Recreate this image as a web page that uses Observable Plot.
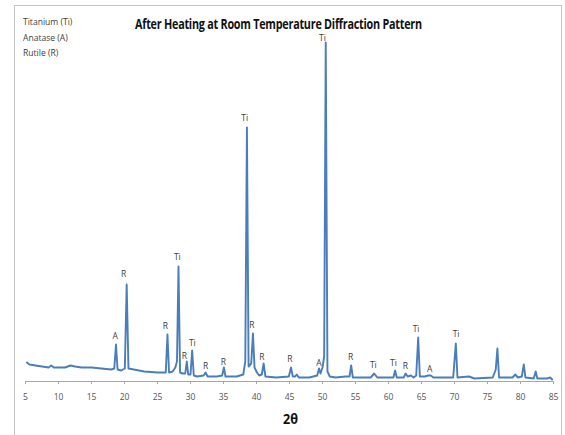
<!DOCTYPE html>
<html>
<head>
<meta charset="utf-8">
<script src="https://cdn.jsdelivr.net/npm/d3@7"></script>
<script src="https://cdn.jsdelivr.net/npm/@observablehq/plot@0.6"></script>
<style>
  body { margin: 0; background: #fff; }
  #wrap { position: relative; width: 565px; height: 435px; overflow: hidden; font-family: "Open Sans", "Liberation Sans", sans-serif; }
  #frame { position: absolute; left: 14px; top: 5px; width: 548px; height: 440px; border: 1px solid #c4c4c4; box-sizing: border-box; }
  #chart { position: absolute; left: 0; top: 0; }
  .title { position: absolute; left: 135px; top: 15px; font-weight: bold; font-size: 13.5px; color: #111; white-space: nowrap; letter-spacing: -0.3px; font-family: "Open Sans", sans-serif; transform: scaleX(0.8); transform-origin: left top; }
  .legend { position: absolute; left: 23px; top: 14px; font-size: 9.5px; line-height: 15.5px; color: #404040; font-family: "Open Sans", sans-serif; transform: scaleX(0.9); transform-origin: left top; }
  .xlabel { position: absolute; left: 283px; top: 409px; font-weight: bold; font-size: 14px; color: #111; transform: scaleX(0.9); transform-origin: left top; }
</style>
</head>
<body>
<div id="wrap">
  <div id="frame"></div>
  <div id="chart"></div>
  <div class="title">After Heating at Room Temperature Diffraction Pattern</div>
  <div class="legend">Titanium (Ti)<br>Anatase (A)<br>Rutile (R)</div>
  <div class="xlabel">2θ</div>
</div>
<script>
// Diffraction pattern: 2θ (degrees) and intensity (arbitrary units)
const twoTheta = [5.2, 5.6, 6.5, 7.5, 8.5, 8.9, 9.3, 10, 11, 11.8, 12.5, 13.5, 15, 16.5, 18, 18.45, 18.71, 18.95, 19.5, 20.05, 20.33, 20.6, 21.4, 23, 25, 26.25, 26.51, 26.75, 27.3, 27.7, 27.95, 28.18, 28.42, 28.8, 29.2, 29.44, 29.65, 30.0, 30.25, 30.5, 31, 32.0, 32.28, 32.6, 34, 34.8, 35.06, 35.3, 37, 38.0, 38.3, 38.55, 38.8, 39.2, 39.46, 39.7, 40.07, 40.4, 40.8, 41.08, 41.35, 43, 44.9, 45.23, 45.5, 45.85, 46.1, 46.4, 48, 49.2, 49.48, 49.7, 50.0, 50.25, 50.49, 50.75, 51.1, 52, 53.5, 54.1, 54.34, 54.6, 55.5, 57.3, 57.83, 58.3, 60, 60.75, 61.0, 61.25, 62.3, 62.6, 62.9, 63.4, 63.8, 64.2, 64.5, 64.75, 65.5, 66.0, 66.4, 66.8, 69.8, 70.2, 70.45, 72.2, 73, 75.8, 76.25, 76.5, 76.75, 78.8, 79.2, 79.6, 80.2, 80.5, 80.75, 82.0, 82.3, 82.55, 84, 84.5, 84.8];
const intensity = [19, 17, 16, 15, 14, 16, 14, 14, 14, 16, 15, 14, 14, 13, 12, 13, 37, 12, 11, 13, 97, 13, 12, 10, 9, 9, 47, 9, 10, 14, 20, 115, 9, 8, 8, 20, 7, 7, 31, 6, 5, 6, 9, 5, 5, 6, 14, 5, 5, 7, 20, 254, 15, 18, 48, 14, 9, 6, 7, 18, 5, 4, 5, 14, 5, 5, 7, 4, 4, 6, 13, 8, 14, 25, 339, 10, 5, 4, 5, 5, 16, 4, 4, 4, 8, 4, 4, 4, 11, 4, 4, 8, 5, 6, 4, 6, 44, 5, 5, 6, 6, 4, 4, 38, 4, 5, 3, 4, 12, 33, 4, 4, 7, 4, 5, 17, 4, 3, 10, 3, 3, 4, 2];

// Peak annotations
const labelText = ["A", "R", "R", "Ti", "R", "Ti", "R", "R", "Ti", "R", "R", "R", "A", "Ti", "R", "Ti", "Ti", "R", "Ti", "A", "Ti"];
const labelX = [18.6, 19.86, 26.18, 28.0, 29.06, 30.27, 32.29, 34.97, 38.2, 39.3, 40.8, 45.07, 49.47, 49.98, 54.27, 57.7, 60.74, 62.56, 64.18, 66.25, 70.24];
const labelY = [45, 107, 55, 124, 25, 38, 15, 19, 263, 56, 24, 22, 18, 343, 24, 16, 18, 15, 52, 12, 47];

const xTicks = [5, 10, 15, 20, 25, 30, 35, 40, 45, 50, 55, 60, 65, 70, 75, 80, 85];

const series = twoTheta.map((t, i) => ({t, v: intensity[i]}));
const labels = labelText.map((s, i) => ({s, x: labelX[i], y: labelY[i]}));

const chart = Plot.plot({
  width: 565,
  height: 435,
  marginLeft: 25,
  marginRight: 12,
  marginTop: 36,
  marginBottom: 54,
  style: {background: "transparent", overflow: "visible"},
  x: {domain: [5, 85]},
  y: {domain: [0, 345], axis: null},
  marks: [
    Plot.ruleY([0], {stroke: "#a6a6a6", strokeWidth: 1}),
    Plot.axisX({ticks: xTicks, tickSize: 3, tickPadding: 9, stroke: "#a6a6a6", fill: "#555", fontSize: 8.5, fontFamily: "Open Sans, sans-serif", label: null}),
    Plot.line(series, {x: "t", y: "v", stroke: "#4a7ebb", strokeWidth: 1.9, curve: "linear"}),
    Plot.text(labels, {x: "x", y: "y", text: "s", fill: "#404040", fontSize: 8.5, fontFamily: "Open Sans, sans-serif"})
  ]
});
document.getElementById("chart").appendChild(chart);
</script>
</body>
</html>
